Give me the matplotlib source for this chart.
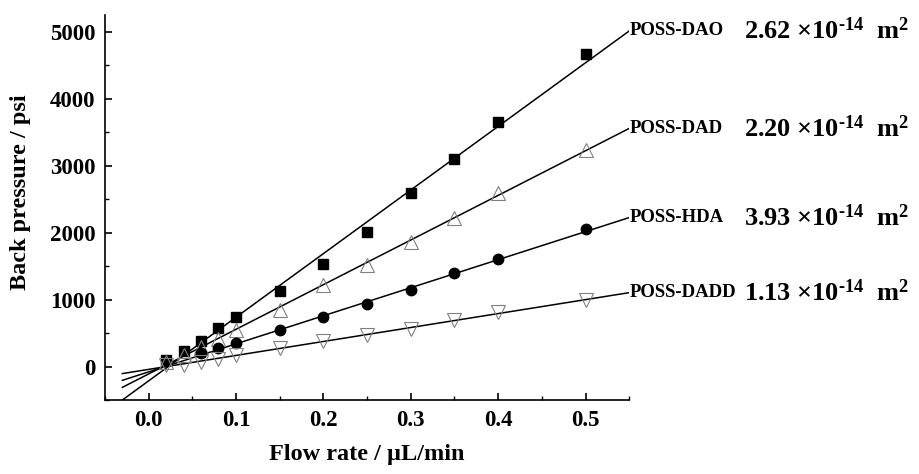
import matplotlib
matplotlib.use('Agg')
import matplotlib.pyplot as plt
import numpy as np
from matplotlib.ticker import MultipleLocator

plt.rcParams['font.family'] = ['Liberation Serif', 'DejaVu Serif']
plt.rcParams['font.weight'] = 'bold'
plt.rcParams['mathtext.fontset'] = 'custom'
plt.rcParams['mathtext.rm'] = 'Liberation Serif:bold'
plt.rcParams['mathtext.it'] = 'Liberation Serif:bold'
plt.rcParams['mathtext.bf'] = 'Liberation Serif:bold'

# ---- back pressure vs flow rate for four monoliths ----
flow_dao = [0.02, 0.04, 0.06, 0.08, 0.10, 0.15, 0.20, 0.25, 0.30, 0.35, 0.40, 0.50]
bp_dao = [100, 235, 375, 575, 745, 1135, 1540, 2005, 2600, 3100, 3650, 4665]

flow_dad = [0.02, 0.04, 0.06, 0.08, 0.10, 0.15, 0.20, 0.25, 0.30, 0.35, 0.40, 0.50]
bp_dad = [70, 170, 300, 415, 540, 850, 1225, 1525, 1865, 2225, 2600, 3235]

flow_hda = [0.06, 0.08, 0.10, 0.15, 0.20, 0.25, 0.30, 0.35, 0.40, 0.50]
bp_hda = [200, 275, 350, 540, 735, 935, 1140, 1400, 1600, 2050]

flow_dadd = [0.02, 0.04, 0.06, 0.08, 0.10, 0.15, 0.20, 0.25, 0.30, 0.35, 0.40, 0.50]
bp_dadd = [20, 25, 75, 115, 175, 275, 385, 475, 560, 700, 810, 990]

names = ['POSS-DAO', 'POSS-DAD', 'POSS-HDA', 'POSS-DADD']
perm = ['2.62', '2.20', '3.93', '1.13']

FIT_X0, FIT_X1 = -0.03, 0.55

fig = plt.figure(figsize=(9.2, 4.74), dpi=100)
ax = fig.add_axes([0.114, 0.156, 0.570, 0.812])

series = [
    (flow_dao, bp_dao, dict(marker='s', color='black', markersize=7, markerfacecolor='black')),
    (flow_dad, bp_dad, dict(marker='^', color='gray', markersize=10, markerfacecolor='none',
                            markeredgewidth=0.8)),
    (flow_hda, bp_hda, dict(marker='o', color='black', markersize=7.5, markerfacecolor='black')),
    (flow_dadd, bp_dadd, dict(marker='v', color='gray', markersize=10, markerfacecolor='none',
                              markeredgewidth=0.8)),
]

fx = np.array([FIT_X0, FIT_X1])
for (x, y, style), name, k in zip(series, names, perm):
    ax.plot(x, y, linestyle='none', zorder=3, **style)
    slope, icpt = np.polyfit(x, y, 1)
    fy = slope * fx + icpt
    ax.plot(fx, fy, color='black', linewidth=1.1, zorder=2)
    ax.text(FIT_X1, fy[-1], name, fontsize=13.5, fontweight='bold',
            ha='left', va='center', clip_on=False)
    ax.annotate(k + r' $\times$10$^{\text{-}14}$  m$^2$', xy=(0.809, fy[-1]),
                xycoords=('figure fraction', 'data'), fontsize=19,
                fontweight='bold', ha='left', va='center')

ax.set_xlim(-0.05, 0.55)
ax.set_ylim(-500, 5250)
ax.xaxis.set_major_locator(MultipleLocator(0.1))
ax.xaxis.set_minor_locator(MultipleLocator(0.05))
ax.yaxis.set_major_locator(MultipleLocator(1000))
ax.yaxis.set_minor_locator(MultipleLocator(500))
ax.xaxis.set_major_formatter(plt.FuncFormatter(lambda v, p: f'{v:.1f}'))

ax.spines['top'].set_visible(False)
ax.spines['right'].set_visible(False)
for s in ('left', 'bottom'):
    ax.spines[s].set_linewidth(1.2)
ax.tick_params(which='major', direction='in', length=5, width=1.2, labelsize=16.5, pad=7)
ax.tick_params(which='minor', direction='in', length=3, width=1.0)
for lab in ax.get_xticklabels() + ax.get_yticklabels():
    lab.set_fontweight('bold')

ax.set_xlabel('Flow rate / µL/min', fontsize=17.5, fontweight='bold')
ax.set_ylabel('Back pressure / psi', fontsize=17.5, fontweight='bold')
ax.xaxis.set_label_coords(0.5, -0.115)
ax.yaxis.set_label_coords(-0.14, 0.54)

fig.savefig('out.png', dpi=100)
